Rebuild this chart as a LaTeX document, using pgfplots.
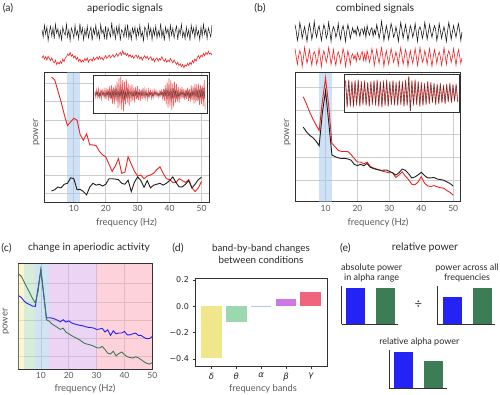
\documentclass[border=0pt]{standalone}
\usepackage{fontspec}
\setmainfont{Lato}
\newfontfamily\dejavu{DejaVu Sans}
\usepackage{pgfplots}
\pgfplotsset{compat=1.18}
\definecolor{cred}{RGB}{240,35,35}
\definecolor{cblack}{RGB}{30,30,30}
\definecolor{cgrid}{RGB}{205,205,205}
\definecolor{cspine}{RGB}{50,50,50}
\definecolor{clabel}{RGB}{90,90,90}
\definecolor{ctitle}{RGB}{40,40,40}
\definecolor{cband}{RGB}{160,196,236}
\definecolor{cblue}{RGB}{35,35,245}
\definecolor{cgreen}{RGB}{60,125,85}
\definecolor{bdelta}{RGB}{249,237,165}
\definecolor{btheta}{RGB}{175,217,179}
\definecolor{balpha}{RGB}{165,199,233}
\definecolor{bbeta}{RGB}{215,169,233}
\definecolor{bgamma}{RGB}{251,165,183}
\definecolor{ddelta}{RGB}{240,230,140}
\definecolor{dtheta}{RGB}{155,215,175}
\definecolor{dalpha}{RGB}{170,200,240}
\definecolor{dbeta}{RGB}{205,120,230}
\definecolor{dgamma}{RGB}{240,100,125}
\pgfplotsset{
  psd/.style={scale only axis, anchor=north west,
    axis line style={cspine, line width=0.8pt},
    grid=major, grid style={cgrid, line width=0.7pt},
    major tick length=0pt, xtick={10,20,30,40,50}, yticklabels={},
    xticklabel style={font=\fontsize{8.5}{9}\selectfont, text=clabel},
    /pgf/number format/assume math mode=true},
  trace/.style={scale only axis, anchor=north west, hide axis, clip=false},
  inset/.style={scale only axis, anchor=north west, xtick=\empty, ytick=\empty,
    axis line style={cspine, line width=0.8pt}, axis background/.style={fill=white}},
  ebar/.style={scale only axis, anchor=south west, axis x line=bottom, axis y line=left,
    axis line style={cspine, line width=0.9pt, -}, xtick=\empty, ytick=\empty,
    ymin=0, ymax=1.04, xmin=0, clip=false},
}
\begin{document}
\begin{tikzpicture}
\path[use as bounding box] (0,0) rectangle (500pt,-395pt);
% ---------- titles ----------
\node[font=\fontsize{10.5}{12}\selectfont, text=ctitle] at (8pt,-8pt) {(a)};
\node[font=\fontsize{10.5}{12}\selectfont, text=ctitle] at (125pt,-9pt) {aperiodic signals};
\node[font=\fontsize{10.5}{12}\selectfont, text=ctitle] at (260pt,-8pt) {(b)};
\node[font=\fontsize{10.5}{12}\selectfont, text=ctitle] at (375pt,-9pt) {combined signals};
\node[font=\fontsize{10.5}{12}\selectfont, text=ctitle] at (6.5pt,-248pt) {(c)};
\node[font=\fontsize{10.2}{12}\selectfont, text=ctitle] at (89pt,-248pt) {change in aperiodic activity};
\node[font=\fontsize{10.5}{12}\selectfont, text=ctitle] at (178pt,-248pt) {(d)};
\node[font=\fontsize{9.8}{12}\selectfont, text=ctitle] at (261pt,-248.3pt) {band-by-band changes};
\node[font=\fontsize{9.8}{12}\selectfont, text=ctitle] at (261pt,-260pt) {between conditions};
\node[font=\fontsize{10.5}{12}\selectfont, text=ctitle] at (345.5pt,-248pt) {(e)};
\node[font=\fontsize{10.5}{12}\selectfont, text=ctitle] at (425pt,-248pt) {relative power};
% ---------- axis labels ----------
\node[font=\fontsize{9.5}{10}\selectfont, text=clabel] at (126.5pt,-222.7pt) {frequency (Hz)};
\node[font=\fontsize{9.5}{10}\selectfont, text=clabel] at (378pt,-222.7pt) {frequency (Hz)};
\node[font=\fontsize{9.5}{10}\selectfont, text=clabel] at (85pt,-389pt) {frequency (Hz)};
\node[font=\fontsize{9.3}{10}\selectfont, text=clabel] at (263pt,-389pt) {frequency bands};
\node[font=\fontsize{9.5}{10}\selectfont, text=clabel, rotate=90] at (36.5pt,-132.5pt) {power};
\node[font=\fontsize{9.5}{10}\selectfont, text=clabel, rotate=90] at (287.5pt,-132.5pt) {power};
\node[font=\fontsize{9.5}{10}\selectfont, text=clabel, rotate=90] at (6pt,-321.5pt) {power};
% ---------- (a) traces ----------
\begin{axis}[trace, at={(42pt,-22pt)}, width=170pt, height=21pt, xmin=0, xmax=139, ymin=-1.15, ymax=1.15]
\addplot[cblack, line width=0.5pt, no marks] table[row sep=\\, header=false, x expr=\coordindex, y index=0] {
0.3\\-0.5\\0.8\\-0.2\\0.6\\-0.9\\0.1\\0.7\\-0.4\\0.5\\-0.7\\0.9\\-0.1\\0.4\\-0.6\\0.2\\-0.8\\0.6\\0.0\\-0.3\\
0.9\\-0.5\\0.3\\-0.9\\0.5\\0.1\\-0.6\\0.8\\-0.3\\0.2\\-0.7\\1.0\\-0.2\\0.5\\-0.8\\0.3\\-0.4\\0.7\\-0.6\\0.1\\
0.6\\-0.9\\0.4\\-0.2\\0.8\\-0.5\\0.2\\-0.7\\0.9\\-0.1\\0.3\\-0.6\\0.7\\-0.8\\0.5\\0.0\\-0.5\\1.1\\-0.3\\0.4\\
-0.7\\0.6\\-0.2\\0.8\\-0.9\\0.3\\0.1\\-0.5\\0.7\\-0.4\\0.9\\-0.6\\0.2\\-0.8\\0.5\\-0.1\\0.6\\-0.7\\0.4\\-0.3\\
0.8\\-0.5\\0.1\\-0.9\\0.6\\0.3\\-0.6\\0.9\\-0.2\\0.5\\-0.8\\0.4\\-0.3\\0.7\\-0.6\\0.2\\-0.4\\1.0\\-0.5\\0.3\\
-0.9\\0.6\\-0.1\\0.4\\-0.7\\0.8\\-0.3\\0.5\\-0.6\\0.2\\0.7\\-0.8\\0.4\\-0.2\\0.9\\-0.5\\0.1\\-0.7\\0.6\\-0.4\\
0.3\\-0.9\\0.8\\-0.1\\0.5\\-0.6\\0.7\\-0.3\\0.2\\-0.8\\0.6\\-0.4\\0.9\\-0.2\\0.4\\-0.7\\0.5\\0.0\\-0.5\\0.8\\
};
\end{axis}
\begin{axis}[trace, at={(42pt,-48pt)}, width=170pt, height=22pt, xmin=0, xmax=139, ymin=-1.0, ymax=1.0]
\addplot[cred, line width=0.6pt, no marks] table[row sep=\\, header=false, x expr=\coordindex, y index=0] {
0.1\\0.3\\0.0\\0.2\\-0.1\\0.25\\0.05\\-0.15\\0.1\\-0.2\\
-0.35\\-0.1\\-0.5\\-0.3\\-0.45\\-0.2\\-0.4\\0.0\\-0.25\\0.1\\
0.2\\0.45\\0.3\\0.6\\0.25\\0.4\\0.1\\0.3\\-0.05\\0.15\\
-0.2\\0.0\\-0.3\\-0.1\\-0.25\\0.05\\-0.15\\0.1\\-0.3\\-0.05\\
0.0\\-0.2\\0.15\\-0.1\\0.05\\0.2\\-0.05\\0.25\\0.0\\0.15\\
-0.1\\0.1\\0.3\\0.05\\0.2\\0.35\\0.1\\0.25\\0.4\\0.15\\
0.3\\0.5\\0.25\\0.45\\0.6\\0.35\\0.75\\0.4\\0.55\\0.3\\
0.5\\0.2\\0.4\\0.15\\0.3\\0.05\\0.25\\0.35\\0.1\\0.3\\
0.0\\0.2\\-0.1\\0.15\\0.3\\0.05\\0.25\\-0.05\\0.1\\0.2\\
-0.15\\0.05\\-0.25\\0.0\\0.1\\-0.2\\0.05\\-0.1\\0.2\\-0.05\\
-0.2\\0.0\\-0.3\\-0.1\\-0.25\\0.05\\-0.15\\-0.35\\-0.1\\-0.3\\
-0.5\\-0.3\\-0.6\\-0.45\\-0.7\\-0.5\\-0.8\\-0.55\\-0.65\\-0.4\\
-0.6\\-0.3\\-0.5\\-0.15\\-0.35\\0.0\\-0.2\\0.15\\0.3\\0.05\\
0.35\\0.2\\0.5\\0.3\\0.6\\0.4\\0.7\\0.45\\0.55\\0.35\\
};
\end{axis}
% ---------- (b) traces ----------
\begin{axis}[trace, at={(295pt,-21pt)}, width=167pt, height=22pt, xmin=0, xmax=139, ymin=-1.05, ymax=1.05]
\addplot[cblack, line width=0.6pt, no marks] table[row sep=\\, header=false, x expr=\coordindex, y index=0] {
0.7\\0.1\\-0.8\\-0.2\\0.9\\0.3\\-0.6\\0.0\\0.5\\-0.2\\-0.9\\0.1\\0.8\\0.2\\-0.7\\-0.1\\1.0\\0.0\\-0.5\\0.2\\
0.6\\-0.1\\-0.8\\0.0\\0.7\\0.3\\-0.6\\-0.2\\0.9\\0.1\\-0.9\\0.1\\0.5\\0.2\\-0.5\\-0.1\\0.8\\-0.2\\-0.7\\0.2\\
0.6\\0.0\\-0.9\\0.0\\0.7\\0.2\\-0.6\\-0.1\\0.4\\-0.1\\0.2\\-0.3\\0.5\\0.1\\-0.4\\0.3\\0.3\\-0.2\\0.4\\-0.5\\
0.6\\0.0\\-0.3\\0.2\\0.4\\-0.4\\0.2\\-0.2\\0.7\\0.1\\-0.6\\0.0\\1.0\\0.2\\-0.8\\-0.1\\0.6\\0.0\\-0.7\\0.1\\
0.8\\0.3\\-0.5\\-0.2\\0.5\\-0.1\\-0.9\\0.0\\0.9\\0.2\\-0.6\\0.1\\0.7\\0.0\\-0.8\\-0.1\\0.6\\0.2\\-0.5\\0.0\\
0.8\\-0.1\\-0.9\\0.2\\0.5\\0.1\\-0.6\\-0.1\\0.9\\0.2\\-0.7\\0.0\\0.7\\0.0\\-0.5\\0.1\\0.6\\0.3\\-0.8\\-0.2\\
0.8\\0.1\\-0.6\\0.0\\0.5\\-0.1\\-0.9\\0.1\\0.9\\0.2\\-0.7\\0.0\\0.6\\0.0\\-0.5\\0.2\\0.8\\0.1\\-0.8\\0.0\\
};
\end{axis}
\begin{axis}[trace, at={(295pt,-46pt)}, width=167pt, height=22pt, xmin=0, xmax=139, ymin=-1.05, ymax=1.05]
\addplot[cred, line width=0.6pt, no marks] table[row sep=\\, header=false, x expr=\coordindex, y index=0] {
0.8\\0.0\\-0.7\\0.1\\0.6\\0.2\\-0.9\\-0.1\\0.9\\0.1\\-0.6\\0.0\\0.7\\-0.1\\-0.8\\0.2\\0.5\\0.2\\-0.7\\-0.2\\
0.8\\0.0\\-0.9\\0.1\\0.6\\0.1\\-0.5\\0.0\\0.9\\0.2\\-0.7\\-0.1\\0.7\\-0.2\\-0.8\\0.1\\0.5\\0.1\\-0.6\\0.0\\
0.8\\0.3\\-0.9\\-0.2\\0.6\\0.0\\-0.7\\0.1\\0.3\\-0.2\\0.2\\-0.4\\0.4\\0.0\\-0.3\\0.3\\0.5\\-0.3\\0.3\\-0.4\\
0.6\\0.1\\-0.5\\0.0\\0.8\\0.2\\-0.8\\-0.1\\0.7\\0.0\\-0.6\\0.2\\0.9\\0.1\\-0.9\\0.0\\0.6\\-0.1\\-0.7\\0.1\\
0.8\\0.2\\-0.5\\-0.1\\0.5\\0.0\\-0.8\\0.2\\0.9\\0.1\\-0.7\\0.0\\0.7\\0.2\\-0.9\\-0.1\\0.6\\-0.1\\-0.6\\0.1\\
0.8\\0.0\\-0.8\\0.0\\0.9\\0.2\\-0.5\\-0.2\\0.6\\0.1\\-0.7\\0.1\\0.8\\-0.1\\-0.9\\0.0\\0.7\\0.2\\-0.6\\0.1\\
0.5\\0.0\\-0.8\\-0.1\\0.9\\0.1\\-0.7\\0.2\\0.6\\0.2\\-0.5\\0.0\\0.8\\0.0\\-0.8\\0.1\\0.7\\0.1\\-0.6\\-0.1\\
};
\end{axis}
% ---------- (a) PSD ----------
\begin{axis}[psd, at={(44pt,-72.5pt)}, width=165pt, height=129.5pt, xmin=0.65, xmax=52.35, ymin=-0.47, ymax=6.6, ytick={0,...,6}]
\fill[cband, opacity=0.5] (axis cs:8,-0.47) rectangle (axis cs:12,6.6);
\addplot[cred, line width=0.9pt, no marks] coordinates {
(3,6.35) (4,6.2) (5,5.6) (6,5.0) (7,4.3) (8,3.7) (9,3.9) (10,4.1) (11,4.0) (12,3.2)
(13,2.9) (14,3.25) (15,2.65) (16,2.65) (17,2.6) (18,2.3) (19,2.1) (20,2.0) (21,1.6) (22,1.2)
(23,1.5) (24,1.9) (25,1.1) (26,1.15) (27,2.0) (28,1.6) (29,1.2) (30,0.95) (31,1.0) (32,0.8)
(33,0.95) (34,1.0) (35,1.1) (36,1.3) (37,1.45) (38,1.1) (39,0.8) (40,0.75) (41,0.6) (42,0.6)
(43,0.8) (44,0.7) (45,0.6) (46,0.75) (47,0.3) (48,0.1) (49,0.3) (50,0.65)};
\addplot[cblack, line width=0.9pt, no marks] coordinates {
(3,0.13) (4,0.2) (5,0.35) (6,0.3) (7,0.5) (8,0.55) (9,0.85) (10,0.8) (11,0.2) (12,0.22)
(13,0.1) (14,-0.08) (15,0.35) (16,0.55) (17,0.45) (18,0.5) (19,0.4) (20,0.5) (21,0.8) (22,0.8)
(23,0.78) (24,0.75) (25,0.55) (26,0.5) (27,0.72) (28,0.1) (29,0.62) (30,0.9) (31,0.7) (32,0.33)
(33,0.7) (34,0.3) (35,0.45) (36,0.5) (37,0.55) (38,0.45) (39,0.55) (40,0.7) (41,0.9) (42,0.6)
(43,0.35) (44,0.36) (45,0.5) (46,0.7) (47,0.3) (48,0.5) (49,0.75) (50,0.88)};
\end{axis}
\begin{axis}[inset, at={(93pt,-75pt)}, width=114pt, height=38pt, xmin=-2, xmax=121, ymin=-1.1, ymax=1.1]
\addplot[cred, opacity=0.75, line width=0.6pt, no marks] table[row sep=\\, header=false, x expr=\coordindex, y index=0] {
0.1\\-0.2\\0.25\\-0.15\\0.3\\-0.2\\0.15\\-0.3\\0.2\\-0.1\\
0.25\\-0.3\\0.35\\-0.2\\0.3\\-0.4\\0.45\\-0.3\\0.5\\-0.55\\
0.4\\-0.6\\0.5\\-0.4\\0.7\\-0.8\\0.9\\-0.7\\1.0\\-0.9\\
0.8\\-1.0\\0.7\\-0.6\\0.85\\-0.5\\0.6\\-0.7\\0.5\\-0.45\\
0.55\\-0.4\\0.35\\-0.5\\0.4\\-0.3\\0.45\\-0.35\\0.3\\-0.4\\
0.25\\-0.3\\0.35\\-0.2\\0.3\\-0.25\\0.2\\-0.3\\0.25\\-0.15\\
0.2\\-0.25\\0.15\\-0.2\\0.25\\-0.1\\0.2\\-0.15\\0.1\\-0.2\\
0.15\\-0.1\\0.2\\-0.25\\0.3\\-0.4\\0.5\\-0.6\\0.7\\-0.8\\
0.9\\-0.7\\0.8\\-0.9\\0.6\\-0.75\\0.7\\-0.5\\0.6\\-0.45\\
0.4\\-0.5\\0.35\\-0.3\\0.4\\-0.25\\0.3\\-0.35\\0.25\\-0.3\\
0.35\\-0.4\\0.3\\-0.45\\0.5\\-0.35\\0.45\\-0.55\\0.6\\-0.5\\
0.55\\-0.4\\0.6\\-0.65\\0.5\\-0.6\\0.45\\-0.7\\0.8\\-0.9\\
};
\addplot[cblack, opacity=0.6, line width=0.4pt, no marks] table[row sep=\\, header=false, x expr=\coordindex, y index=0] {
-0.1\\0.15\\-0.05\\0.1\\-0.15\\0.05\\-0.1\\0.2\\-0.05\\0.1\\
-0.15\\0.1\\-0.2\\0.15\\-0.1\\0.2\\-0.15\\0.1\\-0.25\\0.2\\
-0.15\\0.25\\-0.2\\0.3\\-0.25\\0.2\\-0.3\\0.25\\-0.2\\0.3\\
-0.25\\0.2\\-0.3\\0.15\\-0.2\\0.25\\-0.15\\0.2\\-0.1\\0.15\\
-0.2\\0.1\\-0.15\\0.2\\-0.1\\0.15\\-0.2\\0.1\\-0.05\\0.15\\
-0.1\\0.2\\-0.15\\0.1\\-0.2\\0.15\\-0.1\\0.05\\-0.15\\0.1\\
-0.05\\0.1\\-0.15\\0.05\\-0.1\\0.15\\-0.05\\0.1\\-0.1\\0.05\\
-0.1\\0.15\\-0.05\\0.1\\-0.15\\0.2\\-0.1\\0.25\\-0.2\\0.3\\
-0.25\\0.2\\-0.3\\0.25\\-0.2\\0.3\\-0.15\\0.2\\-0.25\\0.15\\
-0.2\\0.1\\-0.15\\0.2\\-0.1\\0.15\\-0.2\\0.1\\-0.15\\0.2\\
-0.1\\0.15\\-0.2\\0.1\\-0.25\\0.2\\-0.15\\0.25\\-0.2\\0.3\\
-0.25\\0.2\\-0.3\\0.25\\-0.2\\0.3\\-0.25\\0.35\\-0.3\\0.2\\
};
\end{axis}
% ---------- (b) PSD ----------
\begin{axis}[psd, at={(295.7pt,-72.7pt)}, width=165pt, height=129pt, xmin=0.65, xmax=52.35, ymin=-0.9, ymax=4.63, ytick={0,...,4}]
\fill[cband, opacity=0.5] (axis cs:8,-0.9) rectangle (axis cs:12,4.63);
\addplot[cred, line width=0.9pt, no marks] coordinates {
(3,3.6) (4,3.3) (5,2.95) (6,2.65) (7,2.4) (8,2.15) (9,3.4) (10,4.4) (11,3.2) (12,1.6)
(13,1.45) (14,1.3) (15,1.25) (16,1.25) (17,1.25) (18,1.12) (19,0.95) (20,0.8) (21,0.8) (22,0.72)
(23,0.8) (24,0.62) (25,0.55) (26,0.5) (27,0.46) (28,0.4) (29,0.37) (30,0.34) (31,0.34) (32,0.14)
(33,0.24) (34,0.38) (35,0.2) (36,0.05) (37,-0.15) (38,-0.18) (39,-0.05) (40,0.17) (41,-0.1) (42,-0.22)
(43,-0.25) (44,-0.21) (45,-0.26) (46,-0.3) (47,-0.32) (48,-0.42) (49,-0.5) (50,-0.62)};
\addplot[cblack, line width=0.9pt, no marks] coordinates {
(3,2.3) (4,2.1) (5,1.95) (6,1.85) (7,1.7) (8,1.5) (9,2.9) (10,3.85) (11,2.5) (12,1.1)
(13,1.03) (14,0.98) (15,0.95) (16,0.96) (17,0.93) (18,0.88) (19,0.7) (20,0.65) (21,0.7) (22,0.64)
(23,0.74) (24,0.58) (25,0.52) (26,0.48) (27,0.45) (28,0.45) (29,0.46) (30,0.4) (31,0.34) (32,0.24)
(33,0.34) (34,0.5) (35,0.45) (36,0.3) (37,0.12) (38,0.16) (39,0.25) (40,0.36) (41,0.22) (42,0.12)
(43,0.12) (44,0.14) (45,0.07) (46,0.05) (47,0.02) (48,-0.05) (49,-0.12) (50,-0.23)};
\end{axis}
\begin{axis}[inset, at={(344pt,-74.3pt)}, width=115.3pt, height=38.4pt, xmin=-1, xmax=72, ymin=-1.1, ymax=1.1]
\addplot[cred, opacity=0.7, line width=0.9pt, no marks] table[row sep=\\, header=false, x expr=\coordindex, y index=0] {
0.75\\-0.8\\0.8\\-0.75\\0.7\\-0.8\\0.75\\-0.7\\0.8\\-0.75\\
0.7\\-0.65\\0.75\\-0.7\\0.65\\-0.75\\0.7\\-0.65\\0.75\\-0.7\\
0.8\\-0.75\\0.7\\-0.8\\0.75\\-0.7\\0.8\\-0.75\\0.7\\-0.65\\
0.75\\-0.7\\0.65\\-0.7\\0.75\\-0.65\\0.7\\-0.75\\0.8\\-0.7\\
1.0\\-1.0\\0.75\\-0.7\\0.8\\-0.65\\0.7\\-0.75\\0.65\\-0.7\\
0.6\\-0.65\\0.7\\-0.6\\0.65\\-0.55\\0.6\\-0.65\\0.55\\-0.6\\
0.6\\-0.55\\0.5\\-0.6\\0.55\\-0.5\\0.6\\-0.55\\0.5\\-0.45\\
0.55\\-0.5\\
};
\addplot[cblack, opacity=0.8, line width=0.35pt, no marks] table[row sep=\\, header=false, x expr=\coordindex, y index=0] {
0.68\\-0.72\\0.72\\-0.68\\0.63\\-0.72\\0.68\\-0.63\\0.72\\-0.68\\
0.63\\-0.58\\0.68\\-0.63\\0.58\\-0.68\\0.63\\-0.58\\0.68\\-0.63\\
0.72\\-0.68\\0.63\\-0.72\\0.68\\-0.63\\0.72\\-0.68\\0.63\\-0.58\\
0.68\\-0.63\\0.58\\-0.63\\0.68\\-0.58\\0.63\\-0.68\\0.72\\-0.63\\
0.95\\-1.0\\0.68\\-0.63\\0.72\\-0.58\\0.63\\-0.68\\0.58\\-0.63\\
0.54\\-0.58\\0.63\\-0.54\\0.58\\-0.5\\0.54\\-0.58\\0.5\\-0.54\\
0.54\\-0.5\\0.45\\-0.54\\0.5\\-0.45\\0.54\\-0.5\\0.45\\-0.4\\
0.5\\-0.45\\
};
\end{axis}
% ---------- (c) ----------
\begin{axis}[psd, at={(18.3pt,-263.7pt)}, width=134pt, height=105.3pt, xmin=1.9, xmax=50, ymin=-0.67, ymax=5.1, ytick={0,...,4}]
\fill[bdelta, opacity=0.5] (axis cs:1.9,-0.67) rectangle (axis cs:4,5.1);
\fill[btheta, opacity=0.5] (axis cs:4,-0.67) rectangle (axis cs:8,5.1);
\fill[balpha, opacity=0.5] (axis cs:8,-0.67) rectangle (axis cs:13,5.1);
\fill[bbeta, opacity=0.5] (axis cs:13,-0.67) rectangle (axis cs:30,5.1);
\fill[bgamma, opacity=0.5] (axis cs:30,-0.67) rectangle (axis cs:50,5.1);
\addplot[cblue, line width=0.9pt, no marks] coordinates {
(2,3.35) (3,3.25) (4,3.05) (5,2.93) (6,2.86) (7,2.78) (8,2.76) (9,3.76) (10,4.77) (11,3.4)
(12,2.13) (13,2.14) (14,2.12) (15,2.07) (16,2.0) (17,1.92) (18,2.03) (19,1.9) (20,1.97) (21,1.86)
(22,1.8) (23,1.76) (24,1.72) (25,1.7) (26,1.65) (27,1.61) (28,1.6) (29,1.57) (30,1.5) (31,1.52)
(32,1.56) (33,1.36) (34,1.48) (35,1.17) (36,1.42) (37,1.26) (38,1.3) (39,1.3) (40,1.39) (41,1.2)
(42,1.2) (43,1.26) (44,1.3) (45,1.17) (46,1.17) (47,1.06) (48,0.99) (49,1.0) (50,1.11)};
\addplot[cgreen, line width=0.9pt, no marks] coordinates {
(2,4.55) (3,4.4) (4,4.1) (5,3.8) (6,3.5) (7,3.2) (8,2.95) (9,3.6) (10,4.77) (11,3.5)
(12,2.03) (13,1.95) (14,1.8) (15,1.7) (16,1.6) (17,1.5) (18,1.57) (19,1.35) (20,1.26) (21,1.16)
(22,1.08) (23,1.0) (24,0.92) (25,0.8) (26,0.72) (27,0.68) (28,0.64) (29,0.58) (30,0.5) (31,0.48)
(32,0.57) (33,0.4) (34,0.2) (35,0.15) (36,0.3) (37,0.05) (38,0.18) (39,0.26) (40,0.12) (41,0.0)
(42,-0.04) (43,-0.07) (44,0.0) (45,-0.06) (46,-0.16) (47,-0.27) (48,-0.36) (49,-0.4) (50,-0.32)};
\end{axis}
% ---------- (d) ----------
\begin{axis}[scale only axis, anchor=north west, at={(195pt,-278.3pt)}, width=132pt, height=88.4pt,
  xmin=-0.66, xmax=4.65, ymin=-0.458, ymax=0.213,
  ytick={-0.4,-0.2,0,0.2}, yticklabels={−0.4,−0.2,0.0,0.2},
  xtick={0,...,4}, xticklabels={δ,θ,α,β,γ},
  tick pos=left, tick align=outside, major tick length=2.5pt,
  tick style={cspine, line width=0.6pt},
  axis line style={cspine, line width=0.8pt},
  yticklabel style={font=\dejavu\fontsize{8}{9}\selectfont, text=ctitle},
  xticklabel style={font=\dejavu\itshape\fontsize{8.5}{9}\selectfont, text=ctitle}]
\addplot[ybar, bar width=20.7pt, bar shift=0pt, fill=ddelta, draw=none] coordinates {(0,-0.395)};
\addplot[ybar, bar width=20.7pt, bar shift=0pt, fill=dtheta, draw=none] coordinates {(1,-0.122)};
\addplot[ybar, bar width=20.7pt, bar shift=0pt, fill=dalpha, draw=none] coordinates {(2,-0.008)};
\addplot[ybar, bar width=20.7pt, bar shift=0pt, fill=dbeta, draw=none] coordinates {(3,0.059)};
\addplot[ybar, bar width=20.7pt, bar shift=0pt, fill=dgamma, draw=none] coordinates {(4,0.112)};
\end{axis}
% ---------- (e) ----------
\node[font=\fontsize{9}{10}\selectfont, text=ctitle] at (371.7pt,-268pt) {absolute power};
\node[font=\fontsize{9}{10}\selectfont, text=ctitle] at (371.7pt,-278.3pt) {in alpha range};
\node[font=\fontsize{9}{10}\selectfont, text=ctitle] at (467pt,-268pt) {power across all};
\node[font=\fontsize{9}{10}\selectfont, text=ctitle] at (467pt,-278.3pt) {frequencies};
\node[font=\fontsize{9}{10}\selectfont, text=ctitle] at (419.3pt,-341.7pt) {relative alpha power};
\node[font=\fontsize{13}{14}\selectfont, text=ctitle] at (418.3pt,-305pt) {÷};
\begin{axis}[ebar, at={(341.7pt,-324.3pt)}, width=56.6pt, height=38pt, xmax=56.6]
\addplot[ybar, bar width=19pt, bar shift=0pt, fill=cblue, draw=none] coordinates {(13.6,1.0)};
\addplot[ybar, bar width=19pt, bar shift=0pt, fill=cgreen, draw=none] coordinates {(43.3,1.0)};
\end{axis}
\begin{axis}[ebar, at={(437.3pt,-324.3pt)}, width=57.7pt, height=38pt, xmax=57.7]
\addplot[ybar, bar width=19pt, bar shift=0pt, fill=cblue, draw=none] coordinates {(15.5,0.754)};
\addplot[ybar, bar width=19pt, bar shift=0pt, fill=cgreen, draw=none] coordinates {(44.7,1.0)};
\end{axis}
\begin{axis}[ebar, at={(389.3pt,-388.3pt)}, width=58pt, height=38pt, xmax=58]
\addplot[ybar, bar width=19pt, bar shift=0pt, fill=cblue, draw=none] coordinates {(14.5,1.0)};
\addplot[ybar, bar width=19pt, bar shift=0pt, fill=cgreen, draw=none] coordinates {(44,0.746)};
\end{axis}
\end{tikzpicture}
\end{document}
